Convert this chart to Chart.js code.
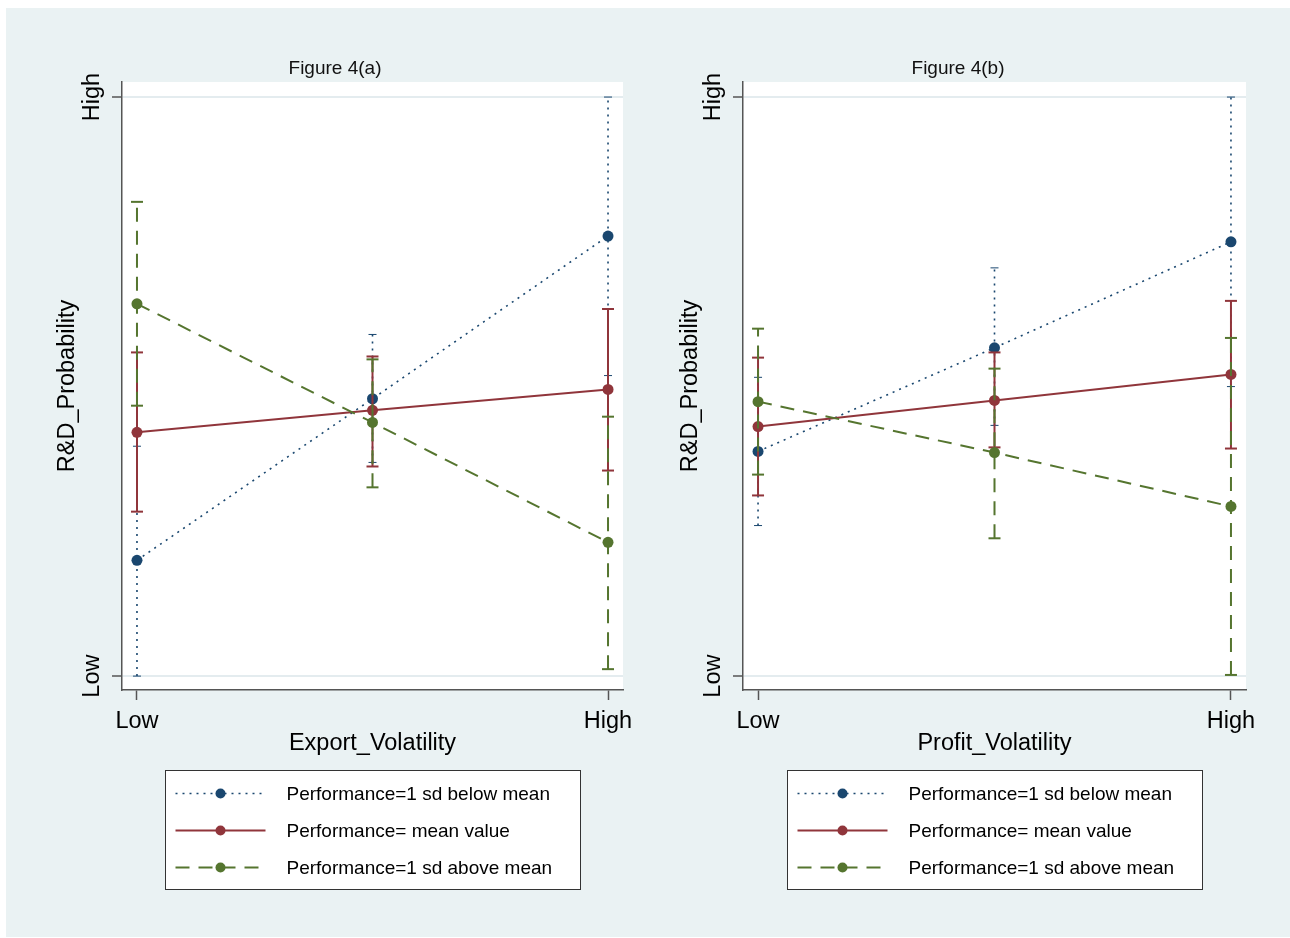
<!DOCTYPE html>
<html>
<head>
<meta charset="utf-8">
<script src="https://cdn.jsdelivr.net/npm/chart.js@4.4.0/dist/chart.umd.min.js"></script>
<style>
  body { margin: 0; background: #fff; width: 1290px; height: 938px; overflow: hidden; }
  #bg { position: absolute; left: 6px; top: 8px; width: 1284px; height: 929px; background: #eaf2f3; }
  .panel { position: absolute; top: 48px; width: 600px; height: 852px; }
  #panelA { left: 37px; }
  #panelB { left: 660px; }
</style>
</head>
<body>
<div id="bg"></div>
<div class="panel" id="panelA"><canvas id="chartA" width="600" height="852"></canvas></div>
<div class="panel" id="panelB"><canvas id="chartB" width="600" height="852"></canvas></div>
<script>
var xPos = [0, 0.5, 1];
var xTickLabels = ['Low', 'High'];
var yTickLabels = ['Low', 'High'];
var seriesNames = ['Performance=1 sd below mean', 'Performance= mean value', 'Performance=1 sd above mean'];

// Figure 4(a) - Export_Volatility (0 = Low, 1 = High)
var expBelow   = [0.200, 0.479, 0.760];
var expBelowLo = [0.000, 0.369, 0.519];
var expBelowHi = [0.397, 0.590, 1.000];
var expMean    = [0.421, 0.459, 0.495];
var expMeanLo  = [0.284, 0.362, 0.355];
var expMeanHi  = [0.559, 0.552, 0.634];
var expAbove   = [0.643, 0.438, 0.231];
var expAboveLo = [0.467, 0.326, 0.012];
var expAboveHi = [0.819, 0.547, 0.448];

// Figure 4(b) - Profit_Volatility
var proBelow   = [0.388, 0.567, 0.750];
var proBelowLo = [0.260, 0.433, 0.500];
var proBelowHi = [0.516, 0.705, 1.000];
var proMean    = [0.431, 0.476, 0.521];
var proMeanLo  = [0.312, 0.395, 0.393];
var proMeanHi  = [0.550, 0.559, 0.648];
var proAbove   = [0.474, 0.386, 0.293];
var proAboveLo = [0.348, 0.238, 0.002];
var proAboveHi = [0.600, 0.531, 0.584];

var colors = ['#1a476f', '#90353b', '#55752f'];
var dashes = [[2, 5], [], [14, 9]];
var lineW = [1.6, 2, 2];
var FONT = "'Liberation Sans', Arial, sans-serif";

Chart.defaults.font.family = FONT;
Chart.defaults.color = '#000';

function buildSets(vals, los, his) {
  var sets = [];
  for (var s = 0; s < 3; s++) {
    var order = (3 - s) * 10; // green ends up on top
    sets.push({
      data: xPos.map(function (x, i) { return {x: x, y: vals[s][i]}; }),
      borderColor: colors[s], borderDash: dashes[s], borderWidth: lineW[s],
      pointRadius: 5.5, pointBackgroundColor: colors[s], pointBorderWidth: 0,
      order: order
    });
    // confidence intervals
    for (var i = 0; i < xPos.length; i++) {
      sets.push({
        data: [{x: xPos[i], y: los[s][i]}, {x: xPos[i], y: his[s][i]}],
        borderColor: colors[s], borderDash: dashes[s], borderWidth: lineW[s],
        pointStyle: 'line', pointRadius: s === 0 ? 4 : 6,
        pointBorderColor: colors[s], pointBorderWidth: s === 0 ? 1 : 2,
        order: order + 1
      });
    }
  }
  return sets;
}

var plotBg = {
  id: 'plotBg',
  beforeDraw: function (chart) {
    var a = chart.chartArea, ctx = chart.ctx;
    ctx.save();
    ctx.fillStyle = '#fff';
    ctx.fillRect(a.left, a.top, a.right - a.left, a.bottom - a.top);
    ctx.restore();
  }
};

var legendBox = {
  id: 'legendBox',
  afterDraw: function (chart) {
    var ctx = chart.ctx, a = chart.chartArea;
    var w = 415, h = 119;
    var left = Math.round((a.left + a.right) / 2 - w / 2) + 0.5;
    var top = Math.round(a.bottom + 80) + 0.5;
    ctx.save();
    ctx.fillStyle = '#fff';
    ctx.fillRect(left, top, w, h);
    ctx.strokeStyle = '#333';
    ctx.lineWidth = 1;
    ctx.strokeRect(left, top, w, h);
    for (var s = 0; s < 3; s++) {
      var y = top + 23 + s * 37;
      ctx.beginPath();
      ctx.setLineDash(dashes[s]);
      ctx.strokeStyle = colors[s];
      ctx.lineWidth = lineW[s];
      ctx.moveTo(left + 10, y);
      ctx.lineTo(left + 100, y);
      ctx.stroke();
      ctx.setLineDash([]);
      ctx.beginPath();
      ctx.fillStyle = colors[s];
      ctx.arc(left + 55, y, 5, 0, Math.PI * 2);
      ctx.fill();
      ctx.fillStyle = '#000';
      ctx.font = '19px ' + FONT;
      ctx.textBaseline = 'middle';
      ctx.fillText(seriesNames[s], left + 121, y + 1);
    }
    ctx.restore();
  }
};

function makeChart(id, title, xTitle, vals, los, his, yWidth) {
  return new Chart(document.getElementById(id), {
    type: 'line',
    data: { datasets: buildSets(vals, los, his) },
    options: {
      responsive: false,
      animation: false,
      events: [],
      layout: { padding: { left: 10, right: 14, top: 0, bottom: 140 } },
      plugins: {
        legend: { display: false },
        tooltip: { enabled: false },
        title: {
          display: true, text: title, color: '#111',
          font: { size: 19, weight: 'normal' },
          padding: { top: 9, bottom: 2.2 }
        }
      },
      scales: {
        x: {
          type: 'linear', min: -0.0318, max: 1.0318,
          afterBuildTicks: function (s) { s.ticks = [{value: 0}, {value: 1}]; },
          ticks: {
            autoSkip: false, maxRotation: 0, padding: 7,
            font: { size: 23.5 }, color: '#000',
            callback: function (v, i) { return xTickLabels[i]; }
          },
          grid: { drawOnChartArea: false, drawTicks: true, tickLength: 10, tickColor: '#555', tickWidth: 1.5 },
          border: { color: '#555', width: 1.5 },
          title: { display: true, text: xTitle, font: { size: 23.5 }, color: '#000', padding: { top: 0, bottom: 2 } },
          afterFit: function (s) { s.height = 70; s.paddingLeft = 0; s.paddingRight = 0; }
        },
        y: {
          type: 'linear', min: -0.024, max: 1.026,
          afterBuildTicks: function (s) { s.ticks = [{value: 0}, {value: 1}]; },
          ticks: {
            autoSkip: false, minRotation: 90, maxRotation: 90, crossAlign: 'center', padding: -5,
            font: { size: 23.5 }, color: '#000',
            callback: function (v, i) { return yTickLabels[i]; }
          },
          grid: { color: '#e4ecef', lineWidth: 2, drawTicks: true, tickLength: 10, tickColor: '#555', tickWidth: 1.5 },
          border: { color: '#555', width: 1.5 },
          title: { display: true, text: 'R&D_Probability', font: { size: 23.5 }, color: '#000', padding: { top: 6.5, bottom: 0 } },
          afterFit: function (s) { s.width = yWidth; s.paddingTop = 0; s.paddingBottom = 0; }
        }
      }
    },
    plugins: [plotBg, legendBox]
  });
}

makeChart('chartA', 'Figure 4(a)', 'Export_Volatility',
  [expBelow, expMean, expAbove], [expBelowLo, expMeanLo, expAboveLo], [expBelowHi, expMeanHi, expAboveHi], 75);
makeChart('chartB', 'Figure 4(b)', 'Profit_Volatility',
  [proBelow, proMean, proAbove], [proBelowLo, proMeanLo, proAboveLo], [proBelowHi, proMeanHi, proAboveHi], 73);
</script>
</body>
</html>
